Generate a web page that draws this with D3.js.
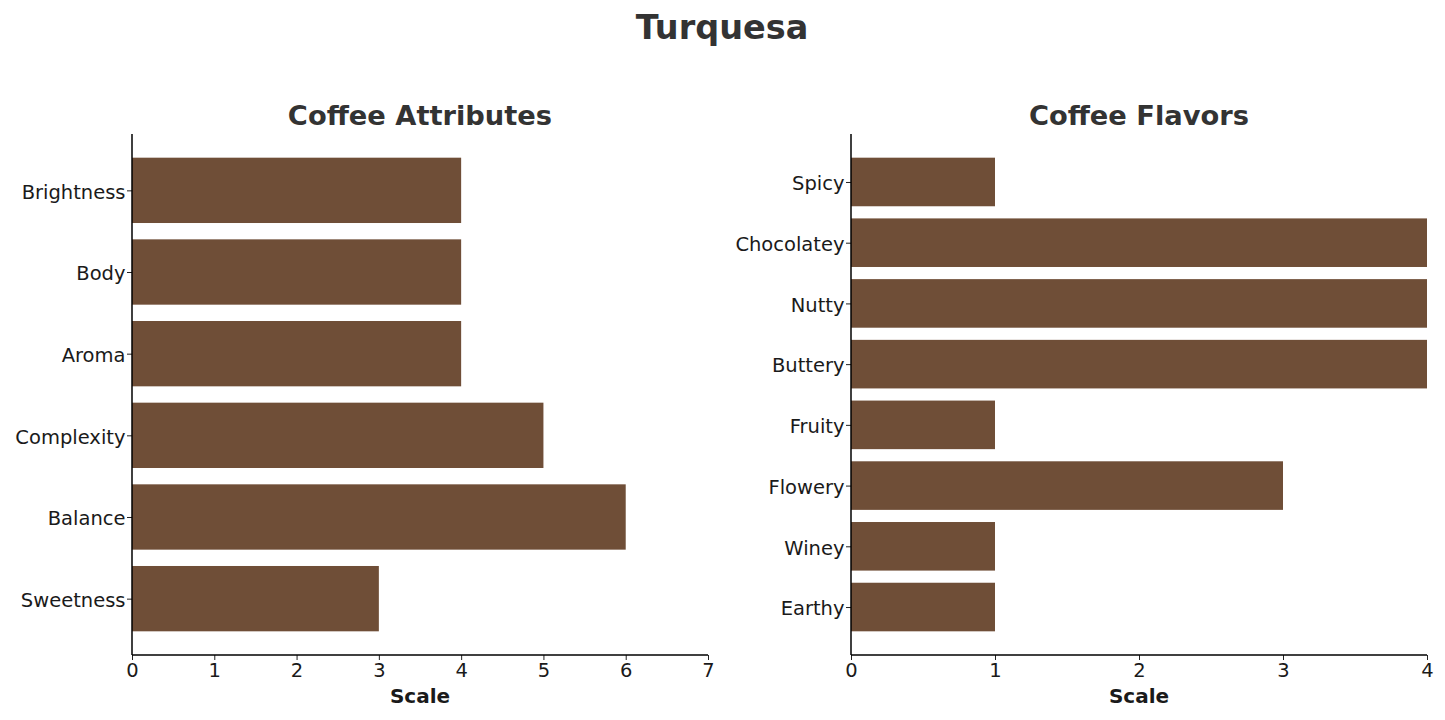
<!DOCTYPE html>
<html>
<head>
<meta charset="utf-8">
<script src="https://cdn.jsdelivr.net/npm/d3@7"></script>
<style>
    body { margin: 0; background: #fff; }
    text { font-family: "DejaVu Sans", sans-serif; }
</style>
</head>
<body>
<svg id="chart" width="1445" height="720"></svg>
<script>
const title = 'Turquesa';
const attrNames = ['Brightness', 'Body', 'Aroma', 'Complexity', 'Balance', 'Sweetness'];
const attrValues = [4, 4, 4, 5, 6, 3];
const attrTicks = [0, 1, 2, 3, 4, 5, 6, 7];
const flavorNames = ['Spicy', 'Chocolatey', 'Nutty', 'Buttery', 'Fruity', 'Flowery', 'Winey', 'Earthy'];
const flavorValues = [1, 4, 4, 4, 1, 3, 1, 1];
const flavorTicks = [0, 1, 2, 3, 4];

const barColor = '#6f4e37';
const svg = d3.select('#chart');

svg.append('text')
    .attr('x', 722).attr('y', 39)
    .attr('text-anchor', 'middle')
    .attr('font-size', 33.5).attr('font-weight', 'bold')
    .attr('fill', '#333')
    .text(title);

function panel(left, right, subtitle, names, values, xmax, ticks) {
    let top = 134, bottom = 655;
    let n = names.length;

    let x = d3.scaleLinear().domain([0, xmax]).range([left, right]);
    // matplotlib-style: bars height 0.8 with 5% margins, first category at top
    let lo = -0.4, hi = n - 1 + 0.4, pad = (hi - lo) * 0.05;
    let y = d3.scaleLinear().domain([lo - pad, hi + pad]).range([top, bottom]);

    let g = svg.append('g');

    g.selectAll('rect')
        .data(values)
        .enter()
        .append('rect')
        .attr('x', x(0))
        .attr('y', (d, i) => y(i - 0.4))
        .attr('width', d => x(d) - x(0))
        .attr('height', (d, i) => y(i + 0.4) - y(i - 0.4))
        .attr('fill', barColor);

    let xAxis = g.append('g')
        .attr('transform', `translate(0, ${bottom})`)
        .call(d3.axisBottom(x).tickValues(ticks).tickFormat(d3.format('d')).tickSizeOuter(0).tickSize(5).tickPadding(3));
    xAxis.select('.domain').remove();
    xAxis.selectAll('.tick line').attr('stroke', '#222');
    xAxis.selectAll('text').attr('font-size', 19.5).attr('fill', '#1a1a1a').attr('font-family', 'DejaVu Sans');

    let yAxis = g.append('g')
        .attr('transform', `translate(${left}, 0)`)
        .call(d3.axisLeft(y).tickValues(d3.range(n)).tickFormat(i => names[i]).tickSizeOuter(0).tickSize(5).tickPadding(1.5));
    yAxis.select('.domain').remove();
    yAxis.selectAll('.tick line').attr('stroke', '#222');
    yAxis.selectAll('text').attr('font-size', 19.5).attr('fill', '#1a1a1a')
        .attr('font-family', 'DejaVu Sans').attr('dy', '0.4em');

    // spines
    g.append('line')
        .attr('x1', left).attr('x2', left)
        .attr('y1', top).attr('y2', bottom)
        .attr('stroke', '#000').attr('stroke-width', 1.5);
    g.append('line')
        .attr('x1', left).attr('x2', right)
        .attr('y1', bottom).attr('y2', bottom)
        .attr('stroke', '#000').attr('stroke-width', 1.5);

    g.append('text')
        .attr('x', (left + right) / 2).attr('y', 703)
        .attr('text-anchor', 'middle')
        .attr('font-size', 20).attr('font-weight', 'bold')
        .attr('fill', '#1a1a1a')
        .text('Scale');

    g.append('text')
        .attr('x', (left + right) / 2).attr('y', 125)
        .attr('text-anchor', 'middle')
        .attr('font-size', 27.3).attr('font-weight', 'bold')
        .attr('fill', '#333')
        .text(subtitle);
}

panel(132, 708, 'Coffee Attributes', attrNames, attrValues, 7, attrTicks);
panel(851, 1427, 'Coffee Flavors', flavorNames, flavorValues, 4, flavorTicks);
</script>
</body>
</html>
